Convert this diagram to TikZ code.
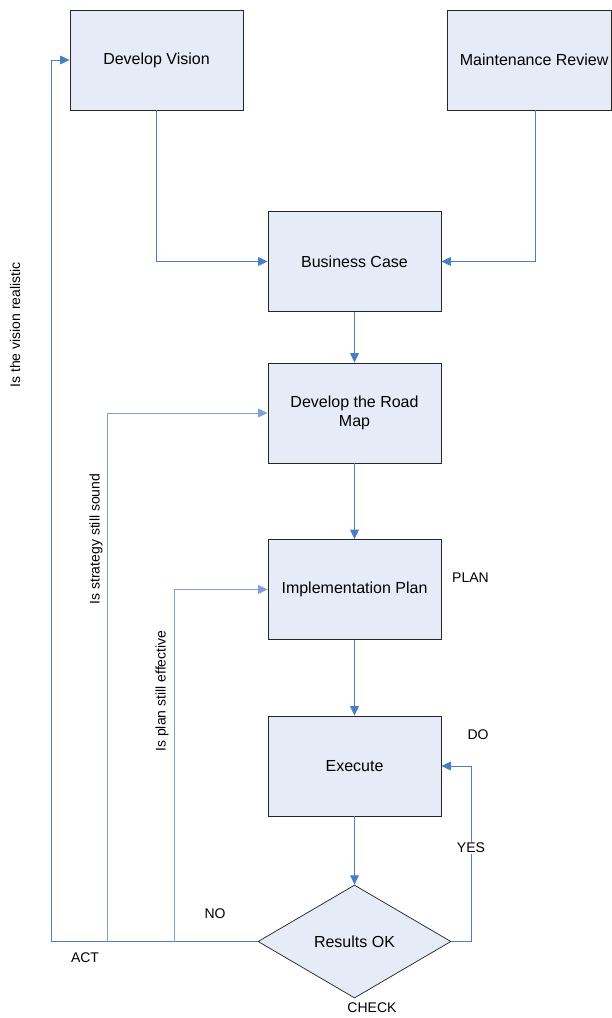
\documentclass[tikz,border=0pt]{standalone}
\usepackage{fontspec}
\setmainfont{Liberation Sans}
\usetikzlibrary{arrows.meta,shapes.geometric}
\definecolor{boxfill}{HTML}{E6ECF7}
\definecolor{flow}{HTML}{4A7EC4}
\definecolor{flowlight}{HTML}{7FA2D6}
\begin{document}
\begin{tikzpicture}[x=0.75pt,y=-0.75pt,
  box/.style={draw=black!85, line width=0.65pt, fill=boxfill,
    minimum width=129.75pt, minimum height=75pt, inner sep=2pt,
    align=center, font=\fontsize{12}{14.5}\selectfont},
  decision/.style={diamond, draw=black!85, line width=0.55pt, fill=boxfill,
    minimum width=144.75pt, minimum height=84.75pt, inner sep=0pt,
    font=\fontsize{12}{14.5}\selectfont},
  flowline/.style={draw=flow, line width=0.75pt},
  loopline/.style={draw=flowlight, line width=0.75pt},
  tip/.style={-{Triangle[length=7pt,width=6.5pt]}},
  lbl/.style={font=\fontsize{10.5}{12}\selectfont, inner sep=1pt}]
\useasboundingbox (0,0) rectangle (611,1018);

% process boxes
\node[box] (dv) at (156.5,60) {Develop Vision};
\node[box, minimum width=120.75pt] (mr) at (529.5,60) {\hspace*{7pt}Maintenance Review};
\node[box] (bc) at (354.5,261.5) {Business Case};
\node[box] (rm) at (354.5,413) {Develop the Road\\Map};
\node[box] (ip) at (354.5,589.5) {Implementation Plan};
\node[box] (ex) at (354.5,766) {Execute};
\node[decision] (ok) at (354.5,941.5) {Results OK};

% main flow
\draw[flowline, tip] (dv.south) |- (bc.west);
\draw[flowline, tip] ([xshift=4.5pt]mr.south) |- (bc.east);
\draw[flowline, tip] (bc.south) -- (rm.north);
\draw[flowline, tip] (rm.south) -- (ip.north);
\draw[flowline, tip] (ip.south) -- (ex.north);
\draw[flowline, tip] (ex.south) -- (ok.north);

% YES loop back to Execute
\coordinate (yesc) at (471,941.5);
\draw[flowline, tip] (ok.east) -- (yesc) |- (ex.east);
\node[lbl, fill=white] (yes) at (471,848) {YES};

% NO branches back up the chain
\coordinate (actc) at (51,941.5);
\coordinate (stratc) at (107,941.5);
\coordinate (planc) at (174,941.5);
\draw[flowline, tip] (ok.west) -- (actc) |- (dv.west);
\draw[loopline, tip] (stratc) |- (rm.west);
\draw[loopline, tip] (planc) |- (ip.west);

% labels
\node[lbl, rotate=90] (q1) at (15,325) {Is the vision realistic};
\node[lbl, rotate=90] (q2) at (96,539) {Is strategy still sound};
\node[lbl, rotate=90] (q3) at (162,691) {Is plan still effective};
\node[lbl] (no) at (215,914) {NO};
\node[lbl] (act) at (85,958) {ACT};
\node[lbl] (check) at (372,1008) {CHECK};
\node[lbl] (plan) at (470.5,578) {PLAN};
\node[lbl] (do) at (478,735) {DO};
\end{tikzpicture}
\end{document}
